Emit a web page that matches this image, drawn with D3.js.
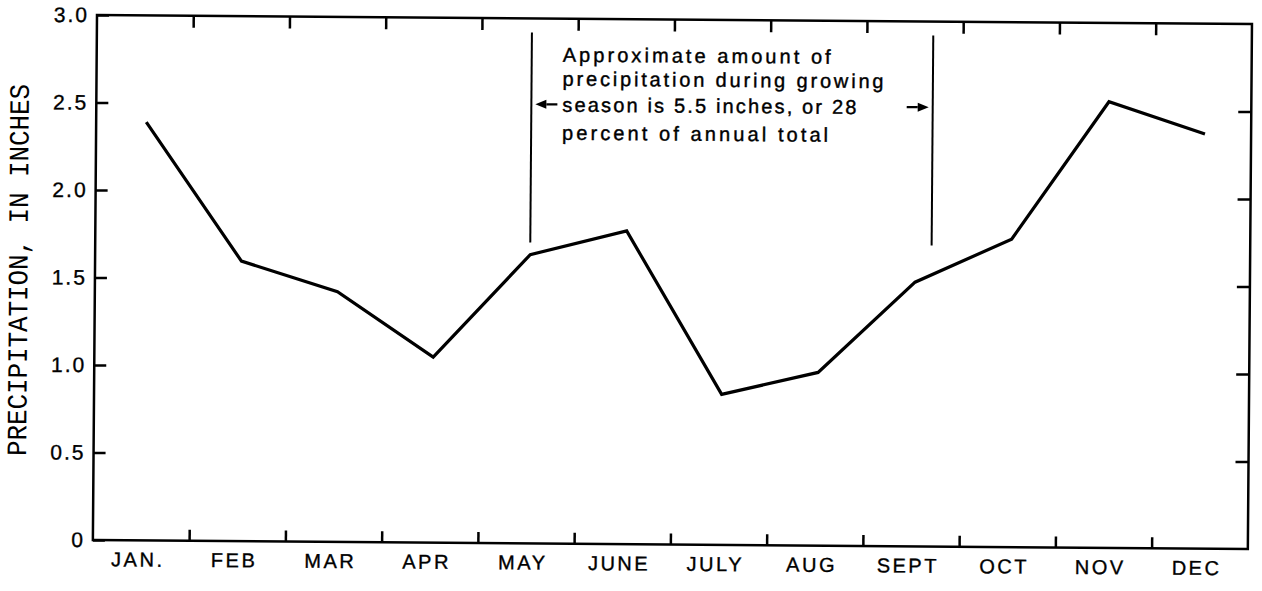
<!DOCTYPE html>
<html>
<head>
<meta charset="utf-8">
<script src="https://cdn.jsdelivr.net/npm/d3@7"></script>
<style>
  html, body { margin: 0; padding: 0; background: #fff; }
  svg { display: block; }
  .axis path { display: none; }
  .axis line { stroke: #000; stroke-width: 2.5; }
  .axis text { fill: #000; stroke: #000; stroke-width: 0.35; font-family: 'Liberation Sans', Arial, sans-serif; }
</style>
</head>
<body>
<svg id="chart" width="1262" height="591"></svg>
<script>
'use strict'

// monthly precipitation, inches
const months = ['JAN.', 'FEB', 'MAR', 'APR', 'MAY', 'JUNE', 'JULY', 'AUG', 'SEPT', 'OCT', 'NOV', 'DEC']
const precipitation = [2.39, 1.60, 1.43, 1.06, 1.65, 1.79, 0.86, 0.99, 1.51, 1.76, 2.55, 2.37]

const yTicks = [0, 0.5, 1.0, 1.5, 2.0, 2.5, 3.0]
const yTickLabels = ['0', '0.5', '1.0', '1.5', '2.0', '2.5', '3.0']
const monthBoundaries = [1, 2, 3, 4, 5, 6, 7, 8, 9, 10, 11]

// growing season, in months from Jan 1, and the bracket's vertical extent
const season = [4.52, 8.69]
const seasonSpan = [2.92, 1.72]
const seasonArrowAt = 2.51
const seasonNote = [
  'Approximate amount of',
  'precipitation during growing',
  'season is 5.5 inches, or 28',
  'percent of annual total'
]

const yTitle = 'PRECIPITATION, IN INCHES'

// the scan is tilted a little clockwise, so the whole plot is too
const margin = { left: 97, top: 15 }
const width = 1155
const height = 525
const tilt = 0.45

const svg = d3.select('#chart')
const g = svg.append('g')
  .attr('transform', `translate(${margin.left},${margin.top}) rotate(${tilt})`)

const x = d3.scaleBand().domain(months).range([0, width])
const xMonth = d3.scaleLinear().domain([0, 12]).range([0, width])
const y = d3.scaleLinear().domain([0, 3]).range([height, 0])

// frame
g.append('rect')
  .attr('width', width)
  .attr('height', height)
  .attr('fill', 'none')
  .attr('stroke', '#000')
  .attr('stroke-width', 2.5)

// left axis, labelled, ticks pointing in
const yFormat = d => yTickLabels[yTicks.indexOf(d)]
g.append('g')
  .attr('class', 'axis')
  .call(d3.axisLeft(y).tickValues(yTicks).tickFormat(yFormat).tickSize(-12).tickPadding(8))
  .call(s => s.selectAll('text')
    .style('font-size', '21px')
    .style('letter-spacing', '2px'))

// right axis, ticks only
g.append('g')
  .attr('class', 'axis')
  .attr('transform', `translate(${width},0)`)
  .call(d3.axisRight(y).tickValues(yTicks.slice(1, -1)).tickFormat('').tickSize(-13))

// month boundary ticks top and bottom
g.append('g')
  .attr('class', 'axis')
  .call(d3.axisTop(xMonth).tickValues(monthBoundaries).tickFormat('').tickSize(-12))

g.append('g')
  .attr('class', 'axis')
  .attr('transform', `translate(0,${height})`)
  .call(d3.axisBottom(xMonth).tickValues(monthBoundaries).tickFormat('').tickSize(-11))

// month names
g.append('g')
  .attr('class', 'axis')
  .attr('transform', `translate(0,${height})`)
  .call(d3.axisBottom(x).tickSize(0).tickPadding(12))
  .call(s => s.selectAll('text')
    .style('font-size', '20px')
    .style('letter-spacing', '2.5px')
    .attr('dx', '-3px'))

// y title
g.append('text')
  .attr('transform', `translate(-75,${height / 2 - 7}) rotate(-90)`)
  .attr('text-anchor', 'middle')
  .attr('dominant-baseline', 'central')
  .attr('textLength', 372)
  .attr('lengthAdjust', 'spacingAndGlyphs')
  .style('font-family', "'Liberation Mono', 'DejaVu Sans Mono', monospace")
  .style('font-size', '28px')
  .text(yTitle)

// precipitation line
const line = d3.line()
  .x((d, i) => x(months[i]) + x.bandwidth() / 2 + 2)
  .y(d => y(d))

g.append('path')
  .datum(precipitation)
  .attr('d', line)
  .attr('fill', 'none')
  .attr('stroke', '#000')
  .attr('stroke-width', 3.2)
  .attr('stroke-linejoin', 'miter')

// growing season bracket
const seasonG = g.append('g')
seasonG.selectAll('line.season')
  .data(season)
  .enter()
  .append('line')
  .attr('class', 'season')
  .attr('x1', d => xMonth(d))
  .attr('x2', d => xMonth(d))
  .attr('y1', y(seasonSpan[0]))
  .attr('y2', y(seasonSpan[1]))
  .attr('stroke', '#000')
  .attr('stroke-width', 2)

// arrows pointing outward to the season lines
const arrowY = y(seasonArrowAt)
const arrows = [
  { tip: xMonth(season[0]) + 4, dir: -1 },
  { tip: xMonth(season[1]) - 4, dir: 1 }
]
arrows.forEach(a => {
  const tail = a.tip - a.dir * 22
  const head = a.tip - a.dir * 11
  seasonG.append('line')
    .attr('x1', tail)
    .attr('x2', head)
    .attr('y1', arrowY)
    .attr('y2', arrowY)
    .attr('stroke', '#000')
    .attr('stroke-width', 2.2)
  seasonG.append('path')
    .attr('d', `M${a.tip},${arrowY}L${head},${arrowY - 4.5}L${head},${arrowY + 4.5}Z`)
    .attr('fill', '#000')
})

const noteWidths = [268, 321, 294, 266]
const noteBaselines = [29, 53, 79, 107]
seasonG.selectAll('text.note')
  .data(seasonNote)
  .enter()
  .append('text')
  .attr('class', 'note')
  .attr('x', xMonth(season[0]) + 31)
  .attr('y', (d, i) => y(seasonSpan[0]) + noteBaselines[i])
  .attr('textLength', (d, i) => noteWidths[i])
  .attr('lengthAdjust', 'spacing')
  .style('font-family', "'Liberation Sans', Arial, sans-serif")
  .style('font-size', '20px')
  .style('stroke', '#000')
  .style('stroke-width', 0.4)
  .text(d => d)
</script>
</body>
</html>
